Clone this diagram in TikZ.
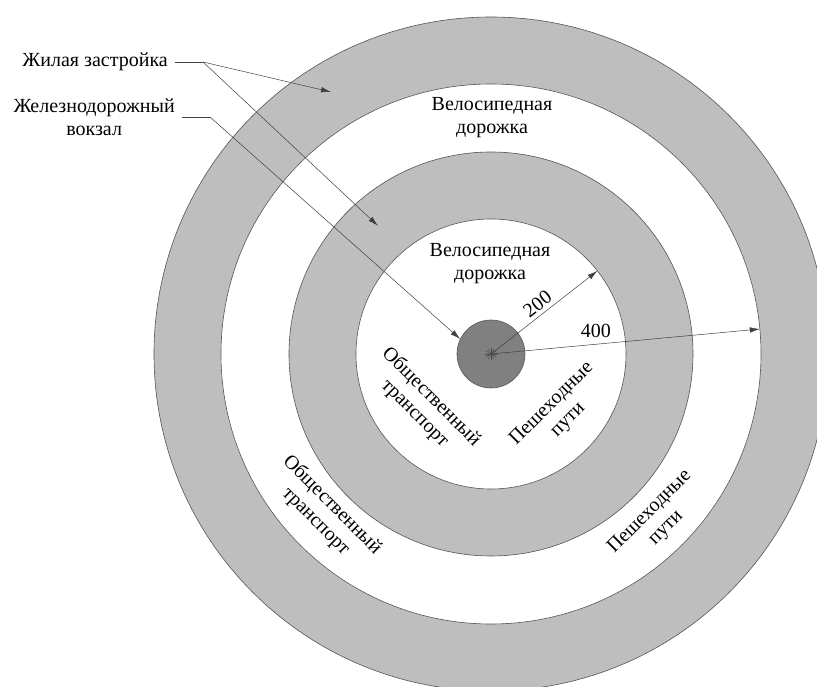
\documentclass[tikz,border=0pt]{standalone}
\usepackage{fontspec}
\setmainfont{Liberation Serif}
\usetikzlibrary{arrows.meta,positioning}
\definecolor{ringgray}{HTML}{BEBEBE}
\definecolor{hubgray}{HTML}{808080}
\definecolor{edgegray}{HTML}{555555}
\tikzset{
  zone/.style={align=center,font=\fontsize{20}{23}\selectfont,inner sep=0pt},
  callout/.style={align=center,font=\fontsize{20}{23}\selectfont,inner xsep=7pt,inner ysep=2pt},
  ring/.style={draw=edgegray,line width=0.6pt},
  leader/.style={draw=black!75,line width=0.5pt},
  leadarrow/.style={leader,-{Latex[length=10pt,width=5.5pt]}}
}

\begin{document}
\begin{tikzpicture}[x=1pt,y=1pt]
\useasboundingbox (-491,-333) rectangle (326,354);
\clip (-491,-333) rectangle (326,354);
% rings, outside in
\draw[ring,fill=ringgray] (0,0) circle (337);
\draw[ring,fill=white] (0,0) circle (270);
\draw[ring,fill=ringgray] (0,0) circle (202);
\draw[ring,fill=white] (0,0) circle (135);
\node[circle,ring,fill=hubgray,minimum size=68pt,inner sep=0pt] (hub) at (0,0) {};
\foreach \a in {0,30,...,150}
  \draw[black!70,line width=0.4pt] (\a:6) -- (\a+180:6);
% zone labels
\node[zone] (bikeout) at (1,236) {Велосипедная\\дорожка};
\node[zone] (bikein) at (-1,90) {Велосипедная\\дорожка};
\node[zone,rotate=-45] (transin) at (-68,-51) {Общественный\\транспорт};
\node[zone,rotate=45] (pedin) at (69,-58) {Пешеходные\\пути};
\node[zone,rotate=-45] (transout) at (-167,-159) {Общественный\\транспорт};
\node[zone,rotate=45] (pedout) at (167,-166) {Пешеходные\\пути};
% callouts
\node[callout,anchor=east] (housing) at (-316,292) {Жилая застройка};
\node[callout,anchor=east] (station) at (-309,237) {Железнодорожный\\вокзал};
\coordinate (hknee) at (-288,292);
\coordinate (sknee) at (-281,237);
\coordinate (res1) at (121.4:307);
\coordinate (res2) at (131.4:171);
\draw[leader] (housing.east) -- (hknee);
\draw[leadarrow] (hknee) -- (res1);
\draw[leadarrow] (hknee) -- (res2);
\draw[leader] (station.east) -- (sknee);
\draw[leadarrow] (sknee) -- (hub.154);
% radii
\coordinate (r200) at (38:135);
\coordinate (r400) at (5.3:270);
\draw[leadarrow] (hub.center) -- node[zone,sloped,above=4pt] (d200) {200} (r200);
\draw[leadarrow] (hub.center) -- node[zone,pos=0.39,above=6pt] (d400) {400} (r400);
\end{tikzpicture}
\end{document}
